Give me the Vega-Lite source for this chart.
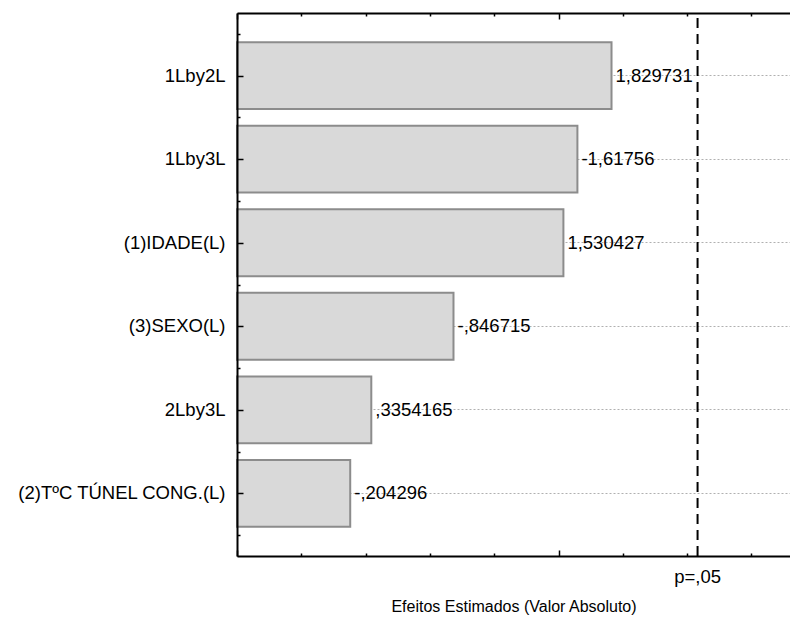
{
  "$schema": "https://vega.github.io/schema/vega-lite/v6.json",
  "width": 553,
  "height": 543,
  "autosize": "none",
  "padding": {"left": 237, "top": 13, "right": 0, "bottom": 69},
  "config": {
    "view": {"stroke": null},
    "font": "Liberation Sans",
    "axis": {"domainColor": "black", "tickColor": "black", "labelColor": "black", "titleColor": "black"}
  },
  "resolve": {"scale": {"y": "independent"}, "axis": {"x": "independent", "y": "independent"}},
  "layer": [
    {
      "data": {
        "values": [
          {"fator": "1Lby2L", "valor": 1.829731, "rotulo": "1,829731"},
          {"fator": "1Lby3L", "valor": 1.61756, "rotulo": "-1,61756"},
          {"fator": "(1)IDADE(L)", "valor": 1.530427, "rotulo": "1,530427"},
          {"fator": "(3)SEXO(L)", "valor": 0.846715, "rotulo": "-,846715"},
          {"fator": "2Lby3L", "valor": 0.3354165, "rotulo": ",3354165"},
          {"fator": "(2)TºC TÚNEL CONG.(L)", "valor": 0.204296, "rotulo": "-,204296"}
        ]
      },
      "layer": [
        {
          "mark": {"type": "bar", "fill": "#d9d9d9", "stroke": "#8c8c8c", "strokeWidth": 2},
          "encoding": {
            "y": {
              "field": "fator", "type": "nominal",
              "sort": {"field": "valor", "order": "descending"},
              "scale": {"paddingInner": 0.2, "paddingOuter": 0.35},
              "axis": {
                "orient": "left", "title": null, "ticks": false, "domain": false,
                "grid": true, "gridDash": [2, 2], "gridColor": "#b0b0b0", "gridWidth": 1,
                "bandPosition": 0.5, "labelFontSize": 18.5, "labelPadding": 12,
                "labelLimit": 400, "zindex": 0
              }
            },
            "x": {
              "field": "valor", "type": "quantitative",
              "scale": {"domain": [-0.5, 2.94], "nice": false, "zero": false},
              "axis": {
                "orient": "bottom",
                "title": "Efeitos Estimados (Valor Absoluto)",
                "titleFontSize": 16, "titleFontWeight": "normal", "titlePadding": 42,
                "values": [-0.5, -0.4, -0.3, -0.2, -0.1, 0, 0.1, 0.2, 0.3, 0.4, 0.5, 0.6, 0.7, 0.8, 0.9, 1.0, 1.1, 1.2, 1.3, 1.4, 1.5, 1.6, 1.7, 1.8, 1.9, 2.0, 2.1, 2.2, 2.3, 2.4, 2.5, 2.6, 2.7, 2.8, 2.9],
                "labels": false,
                "tickSize": {
                  "condition": {"test": "abs(datum.value * 2 - round(datum.value * 2)) < 0.001", "value": -6},
                  "value": -3
                },
                "tickWidth": 1.5, "domainWidth": 2, "grid": false, "zindex": 1
              }
            },
            "x2": {"datum": -0.5}
          }
        },
        {
          "mark": {"type": "text", "align": "left", "baseline": "middle", "dx": 4, "fontSize": 18.5, "color": "black"},
          "encoding": {
            "y": {"field": "fator", "type": "nominal", "sort": {"field": "valor", "order": "descending"}},
            "x": {"field": "valor", "type": "quantitative"},
            "text": {"field": "rotulo"}
          }
        }
      ]
    },
    {
      "data": {"values": [{"p": 2.365, "rotulo": "p=,05"}]},
      "layer": [
        {
          "mark": {"type": "rule", "strokeDash": [10, 6], "strokeWidth": 2, "color": "black"},
          "encoding": {
            "x": {
              "field": "p", "type": "quantitative",
              "scale": {"domain": [-0.5, 2.94], "nice": false, "zero": false},
              "axis": {
                "orient": "top", "title": null, "labels": false,
                "values": [-0.5, -0.4, -0.3, -0.2, -0.1, 0, 0.1, 0.2, 0.3, 0.4, 0.5, 0.6, 0.7, 0.8, 0.9, 1.0, 1.1, 1.2, 1.3, 1.4, 1.5, 1.6, 1.7, 1.8, 1.9, 2.0, 2.1, 2.2, 2.3, 2.4, 2.5, 2.6, 2.7, 2.8, 2.9],
                "tickSize": {
                  "condition": {"test": "abs(datum.value * 2 - round(datum.value * 2)) < 0.001", "value": -6},
                  "value": -3
                },
                "tickWidth": 1.5, "domainWidth": 2, "grid": false, "zindex": 1
              }
            },
            "y": {
              "datum": 0, "type": "quantitative",
              "scale": {"domain": [0, 6.5], "nice": false, "zero": false},
              "axis": {
                "orient": "left", "title": null, "labels": false, "grid": false,
                "values": [0.25, 0.5, 0.75, 1, 1.25, 1.5, 1.75, 2, 2.25, 2.5, 2.75, 3, 3.25, 3.5, 3.75, 4, 4.25, 4.5, 4.75, 5, 5.25, 5.5, 5.75, 6, 6.25],
                "tickSize": {
                  "condition": {"test": "abs(datum.value - floor(datum.value) - 0.75) < 0.001", "value": -6},
                  "value": -3
                },
                "tickWidth": 1.5, "domainWidth": 2, "zindex": 1
              }
            },
            "y2": {"datum": 6.5}
          }
        },
        {
          "mark": {"type": "text", "align": "center", "baseline": "middle", "fontSize": 18.5, "color": "black"},
          "encoding": {
            "x": {"field": "p", "type": "quantitative"},
            "y": {"datum": -0.25, "type": "quantitative"},
            "text": {"field": "rotulo"}
          }
        }
      ]
    }
  ]
}
